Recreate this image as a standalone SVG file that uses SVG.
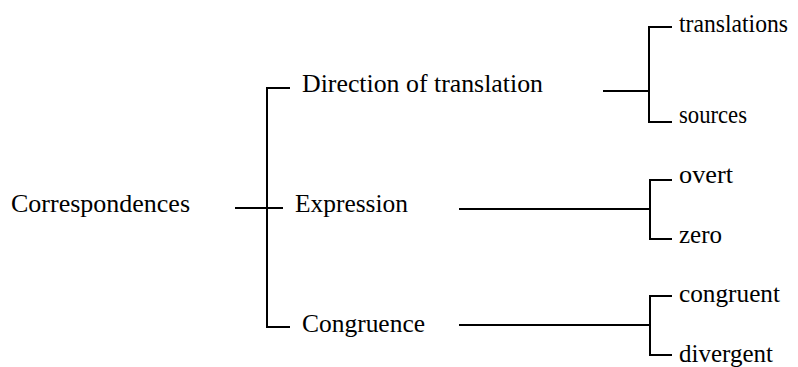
<svg xmlns="http://www.w3.org/2000/svg" width="798" height="367" viewBox="0 0 798 367">
<style>
.c{fill:none;stroke:#000;stroke-width:2}
.t{font-family:"Liberation Serif",serif;font-size:26px;fill:#000}
</style>
<rect width="798" height="367" fill="#fff"/>
<g id="connectors">
<path class="c" d="M235,208H283M290,88H267V327H290"/>
<path class="c" d="M603,91H649M672,27H649V122H672"/>
<path class="c" d="M459,209H650M672,180H650V239H672"/>
<path class="c" d="M459,325H650M672,296H650V355H672"/>
</g>
<g id="n-root"><text class="t" x="11" y="212" textLength="179" lengthAdjust="spacingAndGlyphs">Correspondences</text></g>
<g id="n-direction"><text class="t" x="302" y="92" textLength="241" lengthAdjust="spacingAndGlyphs">Direction of translation</text></g>
<g id="n-expression"><text class="t" x="295" y="212" textLength="113" lengthAdjust="spacingAndGlyphs">Expression</text></g>
<g id="n-congruence"><text class="t" x="302" y="332" textLength="123" lengthAdjust="spacingAndGlyphs">Congruence</text></g>
<g id="n-translations"><text class="t" x="679" y="32" textLength="109" lengthAdjust="spacingAndGlyphs">translations</text></g>
<g id="n-sources"><text class="t" x="679" y="123" textLength="68" lengthAdjust="spacingAndGlyphs">sources</text></g>
<g id="n-overt"><text class="t" x="679" y="183" textLength="54" lengthAdjust="spacingAndGlyphs">overt</text></g>
<g id="n-zero"><text class="t" x="679" y="243" textLength="43" lengthAdjust="spacingAndGlyphs">zero</text></g>
<g id="n-congruent"><text class="t" x="679" y="302" textLength="101" lengthAdjust="spacingAndGlyphs">congruent</text></g>
<g id="n-divergent"><text class="t" x="679" y="362" textLength="94" lengthAdjust="spacingAndGlyphs">divergent</text></g>
</svg>
